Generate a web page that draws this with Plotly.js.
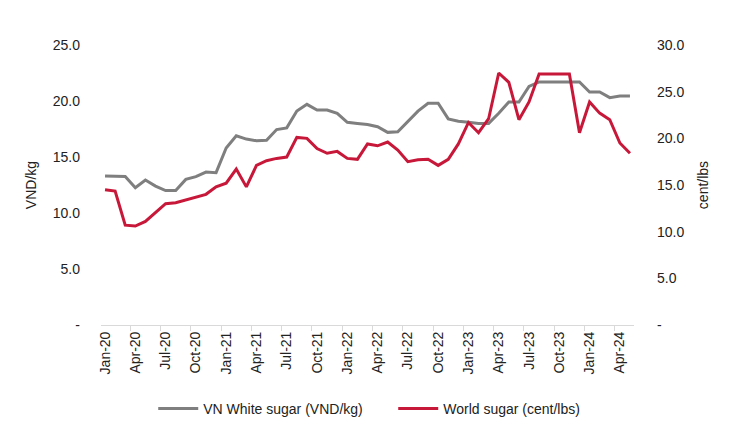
<!DOCTYPE html>
<html>
<head>
<meta charset="utf-8">
<script src="https://cdn.plot.ly/plotly-3.0.1.min.js"></script>
<style>html,body{margin:0;padding:0;background:#fff}#chart{width:752px;height:429px}</style>
</head>
<body>
<div id="chart"></div>
<script>
const months = [
  "Jan-20","Feb-20","Mar-20","Apr-20","May-20","Jun-20","Jul-20","Aug-20","Sep-20","Oct-20","Nov-20","Dec-20",
  "Jan-21","Feb-21","Mar-21","Apr-21","May-21","Jun-21","Jul-21","Aug-21","Sep-21","Oct-21","Nov-21","Dec-21",
  "Jan-22","Feb-22","Mar-22","Apr-22","May-22","Jun-22","Jul-22","Aug-22","Sep-22","Oct-22","Nov-22","Dec-22",
  "Jan-23","Feb-23","Mar-23","Apr-23","May-23","Jun-23","Jul-23","Aug-23","Sep-23","Oct-23","Nov-23","Dec-23",
  "Jan-24","Feb-24","Mar-24","Apr-24","May-24"
];
const vnWhiteSugar = [
  13.3,13.3,13.25,12.25,12.95,12.4,12.0,12.0,13.0,13.25,13.65,13.6,
  15.8,16.9,16.6,16.45,16.5,17.45,17.6,19.1,19.7,19.2,19.2,18.9,
  18.1,18.0,17.9,17.7,17.2,17.25,18.15,19.1,19.8,19.8,18.4,18.2,
  18.1,18.0,18.0,18.9,19.9,19.9,21.3,21.7,21.7,21.7,21.7,21.7,
  20.8,20.8,20.3,20.45,20.45
];
const worldSugar = [
  14.5,14.35,10.7,10.6,11.1,12.1,13.0,13.1,13.4,13.7,14.0,14.8,
  15.2,16.7,14.8,17.1,17.6,17.85,18.0,20.1,20.0,18.9,18.4,18.6,
  17.85,17.75,19.4,19.2,19.6,18.75,17.5,17.7,17.75,17.1,17.75,19.4,
  21.7,20.6,22.1,27.0,26.0,22.0,23.9,26.9,26.9,26.9,26.9,20.6,
  23.9,22.7,22.0,19.5,18.4
];
const xTickLabels = ["Jan-20","Apr-20","Jul-20","Oct-20","Jan-21","Apr-21","Jul-21","Oct-21","Jan-22","Apr-22","Jul-22","Oct-22","Jan-23","Apr-23","Jul-23","Oct-23","Jan-24","Apr-24"];
const leftTickVals = [0,5,10,15,20,25];
const leftTickText = ["-","5.0","10.0","15.0","20.0","25.0"];
const rightTickVals = [0,5,10,15,20,25,30];
const rightTickText = ["-","5.0","10.0","15.0","20.0","25.0","30.0"];

const xIdx = months.map((m, i) => i);
const xTickVals = xTickLabels.map(l => months.indexOf(l));

const FONT = '"Liberation Sans", Arial, sans-serif';

const traces = [
  {x: xIdx, y: vnWhiteSugar, type: 'scatter', mode: 'lines', name: 'VN White sugar (VND/kg)',
   line: {color: '#7f7f7f', width: 3}, yaxis: 'y'},
  {x: xIdx, y: worldSugar, type: 'scatter', mode: 'lines', name: 'World sugar (cent/lbs)',
   line: {color: '#c8183a', width: 3}, yaxis: 'y2'}
];

const layout = {
  width: 752, height: 429,
  margin: {l: 101, r: 118, t: 45, b: 104, autoexpand: false},
  paper_bgcolor: '#ffffff', plot_bgcolor: '#ffffff',
  font: {family: FONT, size: 14, color: '#222'},
  showlegend: true,
  legend: {orientation: 'h', x: 0.098, xanchor: 'left', y: -0.3, yanchor: 'middle',
           font: {family: FONT, size: 14, color: '#222'}, itemwidth: 40, tracegroupgap: 0,
           entrywidth: 185},
  xaxis: {
    automargin: false,
    range: [-0.4, 52.4], tickmode: 'array', tickvals: xTickVals, ticktext: xTickLabels,
    tickangle: -90, ticks: '', showgrid: false, zeroline: false,
    showline: true, linecolor: '#d9d9d9', linewidth: 1,
    tickfont: {family: FONT, size: 14, color: '#222'},
    minor: {tick0: -0.5, dtick: 3, ticks: 'outside', ticklen: 5, tickcolor: '#d9d9d9', showgrid: false}
  },
  yaxis: {
    automargin: false,
    range: [0, 25], tickmode: 'array', tickvals: leftTickVals, ticktext: leftTickText,
    showgrid: false, zeroline: false, showline: false, ticks: '', ticklabelstandoff: 20,
    tickfont: {family: FONT, size: 14, color: '#222'},
    title: {text: 'VND/kg', font: {family: FONT, size: 14, color: '#222'}, standoff: 12}
  },
  yaxis2: {
    automargin: false,
    range: [0, 30], overlaying: 'y', side: 'right', tickmode: 'array', tickvals: rightTickVals, ticktext: rightTickText,
    showgrid: false, zeroline: false, showline: false, ticks: '', ticklabelstandoff: 22,
    tickfont: {family: FONT, size: 14, color: '#222'},
    title: {text: 'cent/lbs', font: {family: FONT, size: 14, color: '#222'}, standoff: 14}
  }
};

Plotly.newPlot('chart', traces, layout, {displayModeBar: false, staticPlot: true});
</script>
</body>
</html>
